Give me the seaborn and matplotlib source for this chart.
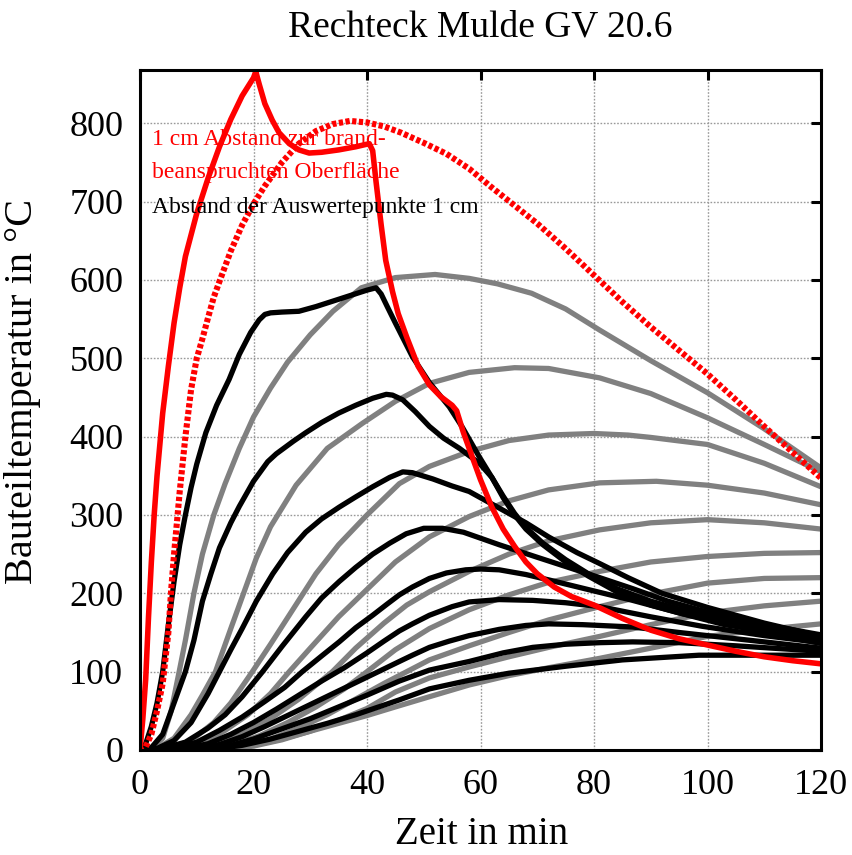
import numpy as np
import pandas as pd
import matplotlib
matplotlib.use("Agg")
import matplotlib.pyplot as plt
import seaborn as sns

# ---------------- data ----------------
# red solid: 1 cm depth, fire exposure
r1_t = [0, 0.5, 1, 1.5, 2, 2.5, 3, 4, 5, 6, 7, 8, 10, 12, 14, 16, 18, 20, 20.4, 21, 22, 23.3, 24.5,
        26.3, 28, 29.8, 32, 35, 38, 40.4, 41, 41.6, 42.5, 43.3, 44.5, 45.5, 47, 49, 51, 53, 55, 55.8,
        57, 58.5, 60, 62, 64, 66, 68, 70, 73, 76, 80, 85, 90, 95, 100, 105, 110, 115, 120]
r1_y = [0, 40, 90, 170, 240, 300, 350, 430, 490, 545, 590, 630, 685, 730, 770, 805, 835, 858, 866, 850,
        825, 804, 788, 774, 766, 762, 763, 766, 770, 774, 765, 725, 670, 625, 585, 557, 527, 490, 466,
        451, 440, 433, 405, 375, 345, 310, 282, 260, 240, 225, 208, 196, 185, 168, 153, 142, 134, 126,
        119, 114, 110]

# red dotted: 1 cm depth, comparison curve
r2_t = [0, 1, 2, 3, 4, 5, 5.5, 6, 7, 8, 9, 10, 11, 12, 13, 14, 16, 18, 20, 22, 25, 28, 31, 34, 37, 40,
        43, 46, 50, 54, 58, 62, 66, 70, 75, 80, 85, 90, 95, 100, 105, 110, 115, 120]
r2_y = [0, 4, 20, 50, 85, 150, 205, 250, 330, 400, 460, 500, 525, 552, 578, 598, 637, 670, 697, 720,
        750, 774, 790, 799, 803, 801, 796, 788, 775, 761, 742, 718, 695, 672, 640, 606, 572, 540, 510,
        480, 447, 413, 380, 347]

# black curves: evaluation points 2 ... 10 cm, fire exposure
b_t = [
    [0, 1, 2, 3, 4, 5, 6, 7, 8, 9, 10, 11.6, 13.5, 15.7, 17.5, 19.5, 21, 22, 23, 25, 28, 31, 34, 37, 40,
     41.6, 42.5, 43.5, 45, 48, 51, 54.5, 56.8, 59.8, 62, 64, 66, 68, 71, 75, 79, 84, 90, 95, 100, 110, 120],
    [0, 2, 4, 6, 8, 9.5, 11, 12.5, 14, 16, 17.5, 20, 21.5, 22.5, 24, 25.5, 27, 29.2, 32, 35, 38, 41, 43.4,
     44.5, 46.3, 48.5, 51, 53.5, 56.3, 59.8, 62, 64, 66, 68, 71, 75, 79, 84, 90, 95, 100, 110, 120],
    [0, 3, 6, 9, 12, 14, 16, 18, 20.5, 23.4, 26, 29.2, 32, 35.1, 38, 41, 44, 46.3, 48, 51.6, 55, 58, 63,
     68, 72, 77, 81, 86, 92, 100, 110, 120],
    [0, 4, 8, 12, 15, 18, 21.6, 25, 29.2, 32, 35.1, 38, 41, 44, 46.9, 50, 53.3, 57, 63.3, 70, 75.1, 81,
     86.8, 93, 100, 110, 120],
    [0, 6, 10, 14, 18, 22, 25.5, 28.6, 32, 35.1, 38, 41, 43.5, 45.7, 48, 51, 54, 57.4, 60, 63.3, 68, 72.1,
     80, 86.8, 95, 103, 110, 120],
    [0, 8, 12, 16, 20, 24, 28, 32, 36, 40, 43, 45.7, 48, 51, 55, 58, 63.3, 69.2, 75, 81, 90, 99, 110, 120],
    [0, 10, 14, 18, 22, 26, 30, 34, 38, 42, 45.7, 48, 51, 54.5, 58, 63.3, 68, 72, 78, 86.8, 95, 100, 110,
     120],
    [0, 12, 16, 20, 25, 30, 35, 40, 45.7, 51, 58, 64, 69.2, 75, 81, 86.8, 95, 105, 120],
    [0, 14, 18, 23, 28, 33, 38, 45.7, 51, 58, 65, 75.1, 85, 98.5, 110, 120],
]
b_y = [
    [0, 8, 30, 60, 100, 160, 215, 262, 300, 335, 365, 405, 440, 473, 505, 533, 549, 556, 558, 559, 560,
     566, 573, 580, 587, 590, 582, 567, 545, 502, 469, 438, 412, 374, 348, 322, 300, 282, 262, 240, 222,
     202, 185, 175, 167, 150, 136],
    [0, 3, 20, 60, 100, 140, 190, 225, 258, 290, 311, 343, 358, 368, 378, 386, 394, 405, 418, 430, 440,
     449, 454, 453, 447, 432, 413, 398, 385, 366, 348, 324, 302, 284, 264, 243, 225, 206, 190, 180, 172,
     155, 140],
    [0, 2, 12, 35, 72, 100, 128, 155, 190, 225, 252, 278, 295, 310, 323, 336, 348, 355, 354, 346, 337,
     330, 310, 290, 272, 252, 238, 220, 200, 182, 162, 145],
    [0, 2, 10, 28, 45, 68, 100, 132, 170, 194, 215, 233, 250, 264, 276, 283, 283, 278, 262, 246, 234, 220,
     206, 190, 176, 160, 147],
    [0, 2, 10, 25, 42, 62, 80, 100, 120, 138, 156, 172, 186, 198, 208, 219, 226, 230, 231, 230, 224, 217,
     203, 191, 175, 160, 152, 143],
    [0, 2, 8, 20, 35, 52, 70, 88, 105, 124, 139, 152, 161, 172, 183, 189, 192, 191, 188, 183, 170, 158,
     146, 137],
    [0, 2, 7, 17, 30, 44, 58, 72, 86, 100, 113, 121, 131, 139, 146, 154, 159, 161, 160, 157, 150, 146,
     138, 130],
    [0, 2, 6, 14, 27, 40, 55, 70, 88, 102, 113, 124, 131, 135, 137, 138, 137, 133, 126],
    [0, 2, 6, 14, 24, 34, 45, 64, 78, 89, 98, 107, 115, 121, 121, 121],
]

# grey curves: evaluation points 2 ... 10 cm, comparison
g_t = [
    [0, 2, 4, 5.5, 6.9, 8, 9.5, 11, 13, 15, 17.5, 20, 23, 26, 30, 34, 39, 45, 52, 58, 63, 69, 75, 81, 90,
     100, 110, 120],
    [0, 3, 6, 9, 11, 13.3, 16, 18.5, 20.5, 23, 27.5, 33, 39.2, 45, 51, 58, 66, 72, 81, 90, 100, 110, 120],
    [0, 5, 9, 13, 16, 19.8, 23, 27, 31, 35, 40, 45.7, 51, 58, 65, 72, 80, 86, 90, 100, 110, 120],
    [0, 7, 11, 15, 19, 23, 26.3, 30, 35, 40, 45, 51, 58, 65, 72, 81, 91, 100, 110, 120],
    [0, 9, 13, 18, 23, 28, 33.9, 38, 43, 47, 51, 58, 65, 72, 81, 90, 100, 110, 120],
    [0, 11, 16, 21, 26, 31, 36, 40, 45, 51, 58, 65, 72, 81, 90, 100, 110, 120],
    [0, 13, 18, 23, 28, 33, 38, 43, 47, 51, 58, 65, 72, 81, 90, 100, 110, 120],
    [0, 15, 20, 25, 30, 35, 40, 45, 51, 58, 65, 72, 81, 90, 100, 110, 120],
    [0, 15, 20, 25, 30, 35, 40, 45, 51, 58, 65, 72, 81, 90, 100, 110, 120],
]
g_y = [
    [0, 2, 15, 50, 100, 140, 200, 250, 300, 340, 385, 425, 462, 495, 530, 560, 590, 603, 607, 602, 595,
     583, 563, 536, 497, 456, 410, 360],
    [0, 2, 15, 45, 70, 100, 155, 205, 245, 285, 338, 385, 417, 445, 468, 482, 488, 487, 475, 455, 424,
     390, 355],
    [0, 2, 12, 35, 60, 100, 135, 180, 225, 262, 300, 340, 362, 381, 395, 402, 404, 402, 399, 390, 366,
     336],
    [0, 1, 8, 25, 45, 72, 100, 130, 170, 205, 240, 272, 298, 318, 332, 341, 343, 338, 328, 313],
    [0, 1, 6, 20, 40, 65, 100, 130, 162, 185, 202, 228, 250, 267, 281, 290, 294, 290, 282],
    [0, 1, 6, 18, 35, 55, 78, 100, 128, 155, 179, 198, 214, 228, 240, 247, 251, 252],
    [0, 1, 5, 14, 28, 45, 65, 85, 100, 115, 133, 150, 166, 183, 199, 213, 219, 220],
    [0, 1, 5, 13, 24, 38, 53, 74, 92, 106, 119, 131, 145, 160, 175, 184, 190],
    [0, 1, 6, 14, 24, 34, 44, 55, 68, 83, 95, 105, 117, 130, 145, 154, 161],
]

x_ticks = [0, 20, 40, 60, 80, 100, 120]
y_ticks = [0, 100, 200, 300, 400, 500, 600, 700, 800]

title = "Rechteck Mulde GV 20.6"
x_label = "Zeit in min"
y_label = "Bauteiltemperatur in °C"
note_red = ["1 cm Abstand zur brand-", "beanspruchten Oberfläche"]
note_black = "Abstand der Auswertepunkte 1 cm"

# ---------------- drawing ----------------
sns.set_theme(style="white")
serif = ["Liberation Serif", "DejaVu Serif"]
plt.rcParams["font.family"] = serif
for k in ["text.color", "axes.labelcolor", "xtick.color", "ytick.color"]:
    plt.rcParams[k] = "black"

fig = plt.figure(figsize=(8.52, 8.55), dpi=100)
ax = fig.add_axes([140 / 852, 1 - 750 / 855, 681 / 852, 680 / 855])

lw = 3.8
grey = "#808080"
for t, y in zip(g_t, g_y):
    sns.lineplot(x=t, y=y, ax=ax, color=grey, lw=lw, sort=False, estimator=None)
for t, y in zip(b_t, b_y):
    sns.lineplot(x=t, y=y, ax=ax, color="black", lw=lw, sort=False, estimator=None)
sns.lineplot(x=r2_t, y=r2_y, ax=ax, color="#ff0000", lw=4.4, sort=False, estimator=None,
             linestyle=(0, (0.7, 0.4)))
sns.lineplot(x=r1_t, y=r1_y, ax=ax, color="#ff0000", lw=4.0, sort=False, estimator=None)

ax.set_xlim(0, 120)
ax.set_ylim(0, 868)
ax.set_xticks(x_ticks)
ax.set_yticks(y_ticks)
ax.set_xticklabels([str(v) for v in x_ticks])
ax.set_yticklabels([str(v) for v in y_ticks])
ax.grid(True, color="#999999", linestyle=(0, (1.2, 1.2)), linewidth=1.0)
ax.set_axisbelow(True)
for s in ax.spines.values():
    s.set_visible(True)
    s.set_color("black")
    s.set_linewidth(2.2)
ax.tick_params(axis="both", which="major", direction="in", length=7, width=2.2,
               top=True, right=True, labelsize=26, colors="black")
ax.tick_params(axis="y", pad=12)
ax.tick_params(axis="x", pad=14)
for lab in ax.get_xticklabels() + ax.get_yticklabels():
    lab.set_family(serif)

ax.set_xlabel(x_label, fontsize=28, family=serif)
ax.set_ylabel(y_label, fontsize=29, family=serif)
ax.xaxis.set_label_coords(0.502, -0.097)
ax.yaxis.set_label_coords(-0.146, 0.527)
ax.set_title(title, fontsize=27, family=serif, pad=24)

ax.text(2.1, 772, note_red[0], color="#ff0000", fontsize=17, family=serif, va="baseline")
ax.text(2.1, 730, note_red[1], color="#ff0000", fontsize=17, family=serif, va="baseline")
ax.text(2.1, 686, note_black, color="black", fontsize=17, family=serif, va="baseline")

fig.savefig("out.png", dpi=100, facecolor="white")
